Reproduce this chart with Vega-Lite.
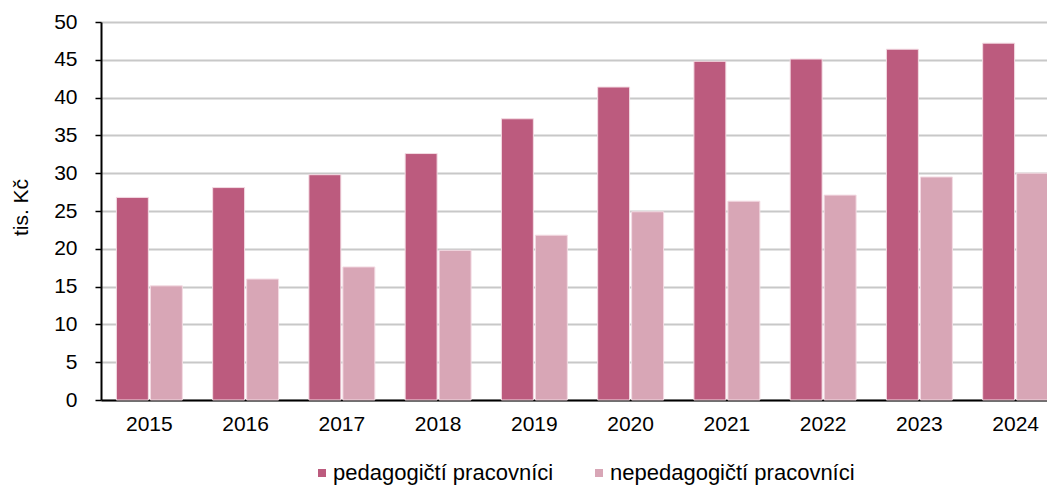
{
  "$schema": "https://vega.github.io/schema/vega-lite/v6.json",
  "width": 946,
  "height": 378,
  "autosize": {"type": "none"},
  "padding": {"left": 101, "top": 22, "right": 0, "bottom": 86},
  "background": "white",
  "config": {
    "view": {"stroke": null},
    "font": "Liberation Sans",
    "axis": {"labelFont": "Liberation Sans", "titleFont": "Liberation Sans", "labelColor": "#000000", "titleColor": "#000000"},
    "legend": {"labelFont": "Liberation Sans"}
  },
  "data": {
    "values": [
      {"rok": "2015", "skupina": "pedagogičtí pracovníci", "mzda": 26.8},
      {"rok": "2015", "skupina": "nepedagogičtí pracovníci", "mzda": 15.1},
      {"rok": "2016", "skupina": "pedagogičtí pracovníci", "mzda": 28.1},
      {"rok": "2016", "skupina": "nepedagogičtí pracovníci", "mzda": 16.0},
      {"rok": "2017", "skupina": "pedagogičtí pracovníci", "mzda": 29.8},
      {"rok": "2017", "skupina": "nepedagogičtí pracovníci", "mzda": 17.6},
      {"rok": "2018", "skupina": "pedagogičtí pracovníci", "mzda": 32.6},
      {"rok": "2018", "skupina": "nepedagogičtí pracovníci", "mzda": 19.8},
      {"rok": "2019", "skupina": "pedagogičtí pracovníci", "mzda": 37.2},
      {"rok": "2019", "skupina": "nepedagogičtí pracovníci", "mzda": 21.8},
      {"rok": "2020", "skupina": "pedagogičtí pracovníci", "mzda": 41.4},
      {"rok": "2020", "skupina": "nepedagogičtí pracovníci", "mzda": 24.9},
      {"rok": "2021", "skupina": "pedagogičtí pracovníci", "mzda": 44.8},
      {"rok": "2021", "skupina": "nepedagogičtí pracovníci", "mzda": 26.3},
      {"rok": "2022", "skupina": "pedagogičtí pracovníci", "mzda": 45.1},
      {"rok": "2022", "skupina": "nepedagogičtí pracovníci", "mzda": 27.1},
      {"rok": "2023", "skupina": "pedagogičtí pracovníci", "mzda": 46.4},
      {"rok": "2023", "skupina": "nepedagogičtí pracovníci", "mzda": 29.5},
      {"rok": "2024", "skupina": "pedagogičtí pracovníci", "mzda": 47.2},
      {"rok": "2024", "skupina": "nepedagogičtí pracovníci", "mzda": 30.0}
    ]
  },
  "mark": {"type": "bar", "stroke": "#f3dbe3", "strokeWidth": 1},
  "encoding": {
    "x": {
      "field": "rok", "type": "nominal",
      "scale": {"range": [0, 963], "paddingInner": 0.315, "paddingOuter": 0.16},
      "axis": {"title": null, "labelAngle": 0, "labelFontSize": 21, "ticks": false, "labelPadding": 13, "domain": true, "domainColor": "#000000", "domainWidth": 2, "grid": false}
    },
    "xOffset": {
      "field": "skupina", "type": "nominal",
      "sort": ["pedagogičtí pracovníci", "nepedagogičtí pracovníci"],
      "scale": {"paddingInner": 0.06}
    },
    "y": {
      "field": "mzda", "type": "quantitative",
      "scale": {"domain": [0, 50], "nice": false},
      "axis": {
        "title": "tis. Kč", "titleFontSize": 21, "titleFontWeight": "normal",
        "titleAngle": -90, "titleX": -74, "titleY": 185, "titleAlign": "center", "titleBaseline": "alphabetic",
        "values": [0, 5, 10, 15, 20, 25, 30, 35, 40, 45, 50],
        "labelFontSize": 21, "labelPadding": 18,
        "tickSize": 6, "tickColor": "#000000", "tickWidth": 1.5,
        "domainColor": "#000000", "domainWidth": 2,
        "grid": true, "gridColor": "#c8c8c8", "gridWidth": 2
      }
    },
    "color": {
      "field": "skupina", "type": "nominal",
      "sort": ["pedagogičtí pracovníci", "nepedagogičtí pracovníci"],
      "scale": {"domain": ["pedagogičtí pracovníci", "nepedagogičtí pracovníci"], "range": ["#bc5b7e", "#d8a6b6"]},
      "legend": {
        "title": null, "orient": "none", "direction": "horizontal",
        "legendX": 210, "legendY": 440,
        "symbolType": "square", "symbolSize": 64, "symbolStrokeWidth": 0,
        "labelFontSize": 22, "labelColor": "#000000", "labelLimit": 0, "columnPadding": 34, "labelOffset": 0
      }
    }
  }
}
